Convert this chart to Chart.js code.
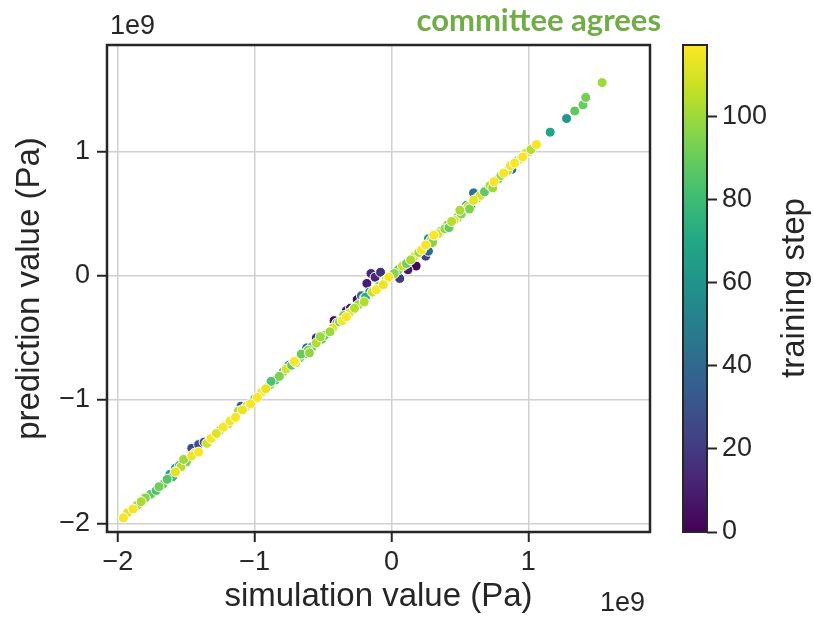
<!DOCTYPE html>
<html>
<head>
<meta charset="utf-8">
<title>committee agrees</title>
<script src="https://cdn.jsdelivr.net/npm/chart.js@4.4.0/dist/chart.umd.min.js"></script>
<style>
  body { margin: 0; background: #fff; }
  #wrap { position: relative; width: 814px; height: 617px; }
  #main { position: absolute; left: 0; top: 0; }
  #cbar { position: absolute; left: 660px; top: 0; }
</style>
</head>
<body>
<div id="wrap">
  <canvas id="main" width="814" height="617"></canvas>
  <canvas id="cbar" width="154" height="617"></canvas>
</div>
<script>
// values in units of 1e9 Pa
const X_TICKS = [-2, -1, 0, 1];
const Y_TICKS = [-2, -1, 0, 1];
const STEP_TICKS = [0, 20, 40, 60, 80, 100];
const X_RANGE = [-2.08, 1.89];
const Y_RANGE = [-2.065, 1.863];
const STEP_MAX = 117.1;

// simulation value, predicted value, training step (early steps first so late ones sit on top)
const simX = [
  -0.42, -0.33, -0.30, -0.18, -0.15, -0.12, -0.08, 0.15, 0.18, 0.12, -0.55, -0.25, 0.06, 0.25,
  -1.46, -1.41, -1.37, -1.10, 0.27, 0.58, 0.62, 0.60, 0.88, -0.62, -0.22,
  -1.62, -1.58, -1.55, -0.64, -0.20, -0.16, 0.27, 1.16, 1.28, 0.55, -0.75,
  -1.76, -1.72, -1.67, -1.60, -1.50, -0.85, -0.79, -0.58, -0.51, -0.46, -0.40, -0.28, 0.05, 0.09,
  0.36, 0.41, 0.48, 0.53, 0.63, 0.70, 1.00, 1.03, 1.34, 1.40, 1.42, -1.25, -1.00,
  -1.93, -1.86, -1.80, -1.70, -1.64, -1.54, -1.44, -1.35, -1.30, -1.21, -1.16, -1.06, -0.95, -0.89,
  -0.82, -0.77, -0.73, -0.67, -0.61, -0.55, -0.49, -0.43, -0.38, -0.31, -0.24, -0.19, -0.14, -0.09,
  -0.04, 0.02, 0.08, 0.11, 0.17, 0.20, 0.29, 0.34, 0.39, 0.46, 0.51, 0.56, 0.65, 0.68,
  0.72, 0.78, 0.85, 0.92, 0.98, 1.02,
  -0.88, -0.66, -0.52, -0.35, -0.20, 0.30, 0.42, 0.57, 0.74, -1.12, -0.60, 0.50,
  -1.83, -1.52, -0.45, -0.27, 0.14, 0.80, 0.95, 1.54, -1.19, 0.44, -0.70,
  -1.96, -1.89, -1.46, -1.41, -1.32, -1.28, -1.23, -1.18, -1.14, -1.09, -1.03, -0.98, -0.92, -0.71,
  -0.36, -0.33, -0.11, -0.02, 0.22, 0.25, 0.31, 0.75, 0.82, 0.87, 0.90, 0.96, 1.06, -1.58, -0.06, 0.60
];
const predY = [
  -0.36, -0.28, -0.26, -0.06, 0.02, -0.01, 0.03, 0.09, 0.08, 0.05, -0.50, -0.19, -0.02, 0.16,
  -1.39, -1.36, -1.34, -1.05, 0.20, 0.55, 0.62, 0.67, 0.86, -0.58, -0.16,
  -1.60, -1.55, -1.53, -0.63, -0.18, -0.13, 0.30, 1.16, 1.27, 0.57, -0.72,
  -1.76, -1.73, -1.68, -1.62, -1.50, -0.84, -0.77, -0.57, -0.51, -0.46, -0.38, -0.27, 0.05, 0.09,
  0.36, 0.41, 0.47, 0.53, 0.63, 0.70, 1.00, 1.03, 1.33, 1.38, 1.44, -1.24, -0.99,
  -1.91, -1.85, -1.79, -1.70, -1.64, -1.54, -1.43, -1.35, -1.29, -1.20, -1.16, -1.05, -0.94, -0.88,
  -0.81, -0.75, -0.72, -0.66, -0.60, -0.54, -0.48, -0.42, -0.37, -0.30, -0.23, -0.17, -0.13, -0.08,
  -0.03, 0.02, 0.08, 0.10, 0.16, 0.19, 0.29, 0.34, 0.38, 0.45, 0.50, 0.56, 0.65, 0.68,
  0.73, 0.78, 0.85, 0.93, 0.99, 1.02,
  -0.85, -0.63, -0.49, -0.32, -0.21, 0.27, 0.39, 0.54, 0.71, -1.09, -0.62, 0.53,
  -1.82, -1.48, -0.45, -0.26, 0.13, 0.81, 0.95, 1.56, -1.19, 0.44, -0.70,
  -1.95, -1.88, -1.45, -1.42, -1.31, -1.27, -1.22, -1.17, -1.14, -1.08, -1.03, -0.98, -0.91, -0.69,
  -0.36, -0.33, -0.11, -0.01, 0.21, 0.25, 0.33, 0.76, 0.83, 0.89, 0.91, 0.96, 1.06, -1.58, -0.07, 0.61
];
const stepVals = [
  4, 8, 6, 10, 14, 12, 16, 3, 2, 9, 18, 5, 20, 22,
  24, 26, 30, 34, 40, 38, 36, 42, 44, 45, 41,
  66, 70, 62, 64, 58, 55, 60, 68, 62, 52, 56,
  88, 84, 90, 80, 94, 85, 82, 86, 88, 95, 84, 80, 90, 85,
  88, 92, 84, 88, 96, 90, 92, 86, 88, 90, 92, 95, 92,
  112, 100, 96, 92, 86, 104, 110, 108, 98, 104, 112, 110, 116, 100,
  94, 110, 88, 96, 92, 104, 90, 112, 96, 110, 98, 74, 108, 96,
  110, 96, 108, 92, 112, 100, 104, 110, 98, 112, 96, 106, 110, 88,
  104, 94, 108, 100, 110, 104,
  84, 90, 100, 92, 104, 96, 90, 94, 100, 104, 98, 102,
  102, 100, 100, 104, 102, 100, 98, 100, 98, 104, 102,
  116, 115, 114, 116, 116, 112, 116, 115, 116, 114, 116, 116, 113, 116,
  115, 116, 116, 116, 115, 116, 116, 116, 116, 115, 116, 116, 116, 112, 114, 112
];

const INK = '#262626';
const FONT = "'Liberation Sans', Arial, Helvetica, sans-serif";

// viridis colour map
const VIRIDIS = ['#440154', '#482475', '#414487', '#355f8d', '#2a788e', '#21918c',
                 '#22a884', '#44bf70', '#7ad151', '#bddf26', '#fde725'];
function hexRgb(h) {
  return [parseInt(h.slice(1, 3), 16), parseInt(h.slice(3, 5), 16), parseInt(h.slice(5, 7), 16)];
}
function viridis(t) {
  t = Math.min(1, Math.max(0, t));
  const p = t * (VIRIDIS.length - 1);
  const i = Math.min(VIRIDIS.length - 2, Math.floor(p));
  const f = p - i;
  const a = hexRgb(VIRIDIS[i]), b = hexRgb(VIRIDIS[i + 1]);
  const c = a.map((v, k) => Math.round(v + (b[k] - v) * f));
  return `rgb(${c[0]},${c[1]},${c[2]})`;
}

const minus = v => String(v).replace('-', '\u2212');

const points = simX.map((x, i) => ({ x: x, y: predY[i] }));
const colors = stepVals.map(s => viridis(s / STEP_MAX));

// frame, offset text and the heading
const framePlugin = {
  id: 'frame',
  afterDraw(chart) {
    const { ctx, chartArea: a } = chart;
    ctx.save();
    ctx.strokeStyle = INK;
    ctx.lineWidth = 2.5;
    ctx.strokeRect(a.left, a.top, a.right - a.left, a.bottom - a.top);
    ctx.fillStyle = INK;
    ctx.font = `27px ${FONT}`;
    ctx.textBaseline = 'alphabetic';
    ctx.textAlign = 'left';
    ctx.fillText('1e9', 110, 34);
    ctx.fillText('1e9', 600, 611);
    ctx.fillStyle = '#70ad47';
    ctx.font = `bold 31px Lato, 'Open Sans', sans-serif`;
    ctx.textAlign = 'right';
    ctx.fillText('committee agrees', 661, 31);
    ctx.restore();
  }
};

new Chart(document.getElementById('main'), {
  type: 'scatter',
  data: {
    datasets: [{
      data: points,
      pointBackgroundColor: colors,
      pointBorderColor: '#ffffff',
      pointBorderWidth: 1,
      pointRadius: 5,
      pointHoverRadius: 5
    }]
  },
  options: {
    responsive: false,
    animation: false,
    layout: { padding: { left: 0, top: 45, right: 164, bottom: 0 } },
    plugins: { legend: { display: false }, tooltip: { enabled: false } },
    scales: {
      x: {
        type: 'linear',
        min: X_RANGE[0],
        max: X_RANGE[1],
        afterBuildTicks: s => { s.ticks = X_TICKS.map(v => ({ value: v })); },
        afterFit: s => { s.height = 85; },
        ticks: { color: INK, font: { family: FONT, size: 27 }, padding: 4, maxRotation: 0, callback: minus },
        grid: { color: '#d0d0d0', lineWidth: 1.5, tickLength: 10, tickColor: INK, tickWidth: 2 },
        border: { display: false },
        title: { display: true, text: 'simulation value (Pa)', color: INK, font: { family: FONT, size: 33 }, padding: 0 }
      },
      y: {
        type: 'linear',
        min: Y_RANGE[0],
        max: Y_RANGE[1],
        afterBuildTicks: s => { s.ticks = Y_TICKS.map(v => ({ value: v })); },
        afterFit: s => { s.width = 107; },
        ticks: { color: INK, font: { family: FONT, size: 27 }, padding: 7, callback: minus },
        grid: { color: '#d0d0d0', lineWidth: 1.5, tickLength: 10, tickColor: INK, tickWidth: 2 },
        border: { display: false },
        title: { display: true, text: 'prediction value (Pa)', color: INK, font: { family: FONT, size: 33 }, padding: { top: 10, bottom: 0 } }
      }
    }
  },
  plugins: [framePlugin]
});

// colour bar
function barGradient(context) {
  const { ctx, chartArea } = context.chart;
  if (!chartArea) return VIRIDIS[5];
  const g = ctx.createLinearGradient(0, chartArea.bottom, 0, chartArea.top);
  VIRIDIS.forEach((c, i) => g.addColorStop(i / (VIRIDIS.length - 1), c));
  return g;
}

const cbarPlugin = {
  id: 'cbarFrame',
  afterDraw(chart) {
    const { ctx, chartArea: a } = chart;
    ctx.save();
    ctx.strokeStyle = INK;
    ctx.lineWidth = 2;
    ctx.strokeRect(a.left, a.top, a.right - a.left, a.bottom - a.top);
    ctx.translate(135, 288);
    ctx.rotate(-Math.PI / 2);
    ctx.fillStyle = INK;
    ctx.font = `33px ${FONT}`;
    ctx.textAlign = 'center';
    ctx.textBaseline = 'middle';
    ctx.fillText('training step', 0, 0);
    ctx.restore();
  }
};

new Chart(document.getElementById('cbar'), {
  type: 'bar',
  data: {
    labels: ['training step'],
    datasets: [{
      data: [STEP_MAX],
      backgroundColor: barGradient,
      borderWidth: 0,
      barPercentage: 1,
      categoryPercentage: 1
    }]
  },
  options: {
    responsive: false,
    animation: false,
    layout: { padding: { left: 23, top: 45, right: 0, bottom: 85 } },
    plugins: { legend: { display: false }, tooltip: { enabled: false } },
    scales: {
      x: { display: false },
      y: {
        position: 'right',
        min: 0,
        max: STEP_MAX,
        afterBuildTicks: s => { s.ticks = STEP_TICKS.map(v => ({ value: v })); },
        afterFit: s => { s.width = 107; },
        ticks: { color: INK, font: { family: FONT, size: 27 }, padding: 5 },
        grid: { drawOnChartArea: false, tickLength: 10, tickColor: INK, tickWidth: 2 },
        border: { display: false }
      }
    }
  },
  plugins: [cbarPlugin]
});
</script>
</body>
</html>
